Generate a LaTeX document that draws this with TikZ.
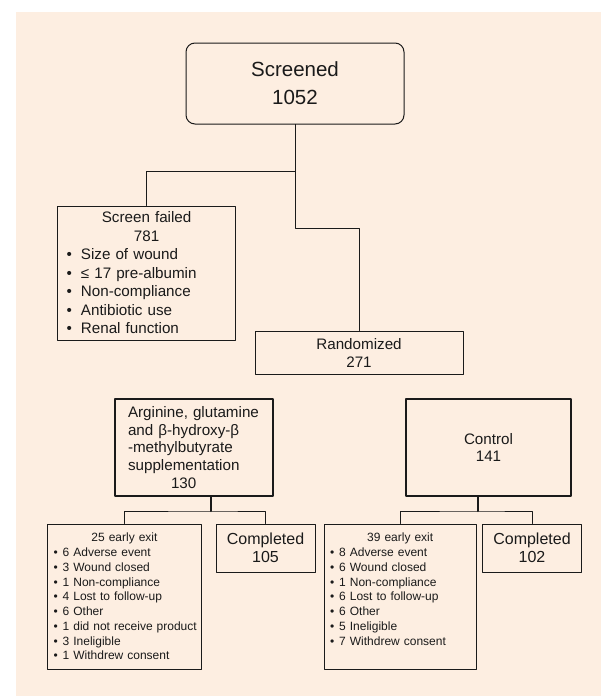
\documentclass[tikz,border=0pt]{standalone}
\usepackage{fontspec}
\setmainfont{Liberation Sans}
\definecolor{peach}{HTML}{FDEEE1}
\definecolor{ink}{HTML}{1A1A1A}
\newcommand{\bul}[2][5pt]{\mbox{\textbullet\hspace{#1}#2}}
\newcommand{\ctr}[1]{\hfill#1\hfill\null}
\begin{document}
\begin{tikzpicture}[line cap=round,line join=round,x=1pt,y=-1pt,
	box/.style={draw=ink,line width=1pt,inner sep=0pt,align=center,text=ink},
	group/.style={box,line width=2pt},
	txt/.style={font=\fontsize{15.2}{18.5}\selectfont},
	small/.style={font=\fontsize{12}{14.75}\selectfont},
	link/.style={draw=ink,line width=1pt},
	stem/.style={draw=ink,line width=2pt}]
	\useasboundingbox (0,0) rectangle (601,696);
	\fill[white] (0,0) rectangle (601,696);
	\fill[peach] (16,12) rectangle (601,696);
	\node[box,rounded corners=9pt,minimum width=218pt,minimum height=81pt,font=\fontsize{20.5}{28}\selectfont] (scr) at (295,83.5) {Screened\\1052};
	\node[box,txt,text width=160pt,align=left,minimum width=178pt,minimum height=134pt] (fail) at (146.6,273) {\ctr{Screen failed}\\\ctr{781}\\\bul[9pt]{Size of wound}\\\bul[9pt]{≤ 17 pre-albumin}\\\bul[9pt]{Non-compliance}\\\bul[9pt]{Antibiotic use}\\\bul[9pt]{Renal function}};
	\node[box,txt,font=\fontsize{15.2}{18}\selectfont,minimum width=208pt,minimum height=43pt] (rand) at (359,352.5) {Randomized\\271};
	\node[group,font=\fontsize{15.2}{17.75}\selectfont,text width=132pt,align=left,minimum width=158pt,minimum height=97pt] (arg) at (194,447.5) {Arginine, glutamine\\and β-hydroxy-β\\-methylbutyrate\\supplementation\\\hspace*{43pt}130};
	\node[group,font=\fontsize{15.2}{17.5}\selectfont,minimum width=165pt,minimum height=97pt] (ctl) at (488.5,447.5) {Control\\141};
	\node[box,small,text width=142pt,align=left,minimum width=154pt,minimum height=145pt] (exit1) at (124.5,596.5) {\ctr{25 early exit}\\\bul{6 Adverse event}\\\bul{3 Wound closed}\\\bul{1 Non-compliance}\\\bul{4 Lost to follow-up}\\\bul{6 Other}\\\bul{1 did not receive product}\\\bul{3 Ineligible}\\\bul{1 Withdrew consent}};
	\node[box,font=\fontsize{16}{18}\selectfont,minimum width=99pt,minimum height=48pt] (done1) at (265.5,548) {Completed\\105};
	\node[box,small,text width=140.4pt,align=left,minimum width=152.4pt,minimum height=145pt] (exit2) at (400.2,596.5) {\ctr{39 early exit}\\\bul{8 Adverse event}\\\bul{6 Wound closed}\\\bul{1 Non-compliance}\\\bul{6 Lost to follow-up}\\\bul{6 Other}\\\bul{5 Ineligible}\\\bul{7 Withdrew consent}\\\mbox{}};
	\node[box,font=\fontsize{16}{18}\selectfont,minimum width=99pt,minimum height=48pt] (done2) at (532,548) {Completed\\102};
	\draw[link] (scr.south) -- ++(0,47) -| (fail.north);
	\draw[link] (scr.south) -- ++(0,104) -| (rand.north);
	\draw[stem] ([xshift=17pt]arg.south) -- ++(0,14) coordinate (aj);
	\draw[link] (exit1.north) |- (aj) -| (done1.north);
	\draw[stem] ([xshift=-10.5pt]ctl.south) -- ++(0,14) coordinate (cj);
	\draw[link] (exit2.north) |- (cj) -| (done2.north);
\end{tikzpicture}
\end{document}
